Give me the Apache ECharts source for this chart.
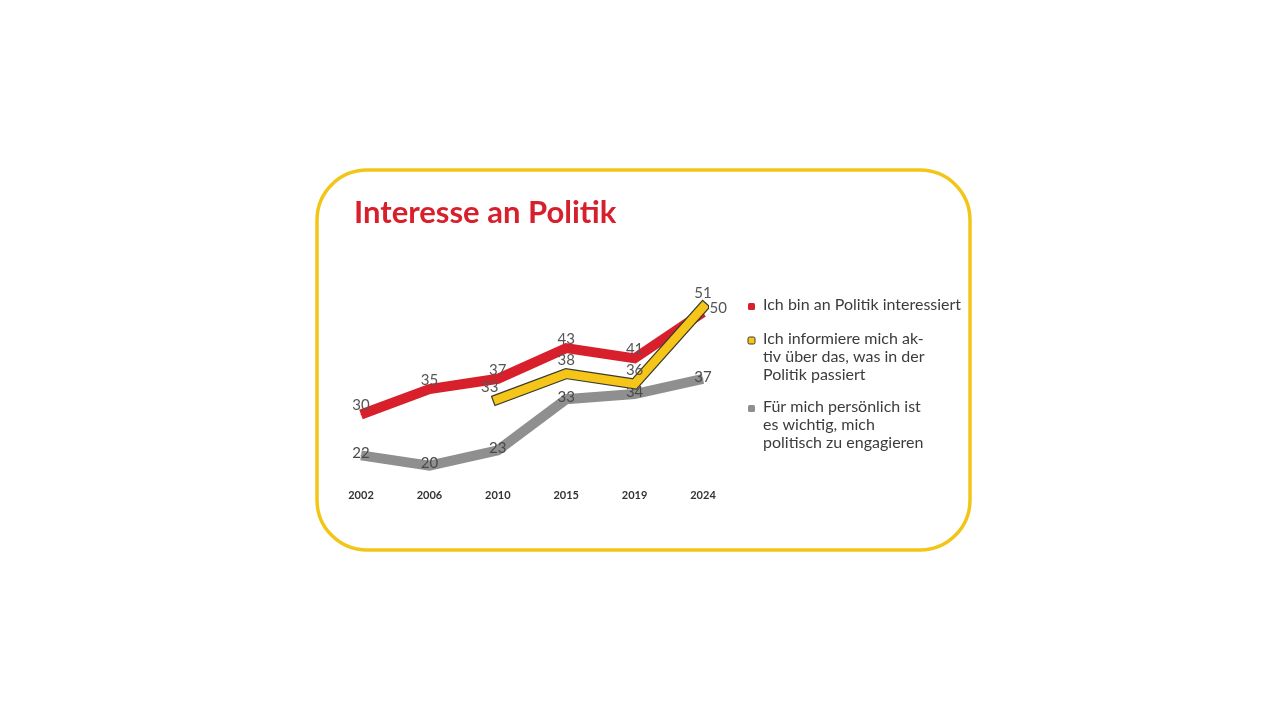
<!DOCTYPE html>
<html>
<head>
<meta charset="utf-8">
<script src="https://cdn.jsdelivr.net/npm/echarts@6/dist/echarts.min.js"></script>
<style>
  html, body { margin: 0; padding: 0; background: #fff; }
  #main { width: 1280px; height: 720px; }
</style>
</head>
<body>
<div id="main"></div>
<script>
// Daten
var years = ['2002', '2006', '2010', '2015', '2019', '2024'];
var interessiert = [30, 35, 37, 43, 41, 50];
var informiere = ['-', '-', 33, 38, 36, 51];
var engagieren = [22, 20, 23, 33, 34, 37];
var seriesNames = [
  'Ich bin an Politik interessiert',
  'Ich informiere mich ak-\ntiv über das, was in der\nPolitik passiert',
  'Für mich persönlich ist\nes wichtig, mich\npolitisch zu engagieren'
];

var RED = '#d7202b', YELLOW = '#f6c519', GREY = '#8f8f8f', FRAME = '#f2c618';
var FONT = 'Lato, "Noto Sans", sans-serif';

var myChart = echarts.init(document.getElementById('main'));

// Beschriftung je Punkt: einzelne Werte werden verschoben
function withLabels(arr, special) {
  return arr.map(function (v, i) {
    if (special[i]) {
      return { value: v, label: special[i] };
    }
    return v;
  });
}

var labelBase = {
  show: true,
  position: 'top',
  distance: 2,
  fontFamily: FONT,
  fontSize: 15,
  color: '#555555'
};

// Legende als Grafik (Symbol an der ersten Zeile)
var legendColors = [RED, YELLOW, GREY];
var legendTops = [305, 339, 407];
var legendItems = [];
for (var k = 0; k < seriesNames.length; k++) {
  legendItems.push({
    type: 'rect',
    shape: { x: 748, y: legendTops[k] - 2, width: 7, height: 7, r: 1.5 },
    style: { fill: legendColors[k], stroke: k === 1 ? '#3a3a30' : null, lineWidth: 1 }
  });
  legendItems.push({
    type: 'text',
    x: 763,
    y: legendTops[k] - 9,
    style: {
      text: seriesNames[k],
      font: '16px ' + FONT,
      fill: '#3c3c3c',
      lineHeight: 18
    }
  });
}

var option = {
  backgroundColor: '#ffffff',
  animation: false,
  graphic: [
    {
      type: 'rect',
      shape: { x: 317, y: 170, width: 653, height: 380, r: 50 },
      style: { fill: '#fff', stroke: FRAME, lineWidth: 3.5 },
      z: -10
    },
    {
      type: 'text',
      x: 354,
      y: 197,
      style: {
        text: 'Interesse an Politik',
        font: 'bold 31px ' + FONT,
        fill: RED
      }
    }
  ].concat(legendItems),
  grid: { left: 361, right: 577, top: 292, bottom: 234 },
  xAxis: {
    type: 'category',
    data: years,
    boundaryGap: false,
    axisLine: { show: false },
    axisTick: { show: false },
    axisLabel: {
      margin: 4,
      fontFamily: FONT,
      fontSize: 11,
      fontWeight: 'bold',
      color: '#333333'
    }
  },
  yAxis: {
    type: 'value',
    min: 16,
    max: 54,
    show: false,
    splitLine: { show: false }
  },
  series: [
    {
      name: 'engagieren',
      type: 'line',
      data: engagieren,
      symbol: 'circle',
      symbolSize: 1,
      itemStyle: { color: GREY },
      lineStyle: { color: GREY, width: 10, join: 'miter' },
      label: Object.assign({}, labelBase, { distance: -6, color: '#4a4a4a' }),
      z: 2
    },
    {
      name: 'interessiert',
      type: 'line',
      data: withLabels(interessiert, { 5: { position: 'right', distance: 6, offset: [0, -4] } }),
      symbol: 'circle',
      symbolSize: 1,
      itemStyle: { color: RED },
      lineStyle: { color: RED, width: 10, join: 'miter' },
      label: Object.assign({}, labelBase, { distance: 1 }),
      z: 3
    },
    {
      name: 'informiere-rand',
      type: 'line',
      data: informiere,
      symbol: 'none',
      lineStyle: { color: '#3a3a30', width: 11, cap: 'square', join: 'miter' },
      z: 4
    },
    {
      name: 'informiere',
      type: 'line',
      data: withLabels(informiere, { 2: { offset: [-8, 2] } }),
      symbol: 'circle',
      symbolSize: 1,
      itemStyle: { color: YELLOW },
      lineStyle: { color: YELLOW, width: 8.5, cap: 'square', join: 'miter' },
      label: Object.assign({}, labelBase, { distance: 6 }),
      z: 5
    }
  ]
};

myChart.setOption(option);
</script>
</body>
</html>
